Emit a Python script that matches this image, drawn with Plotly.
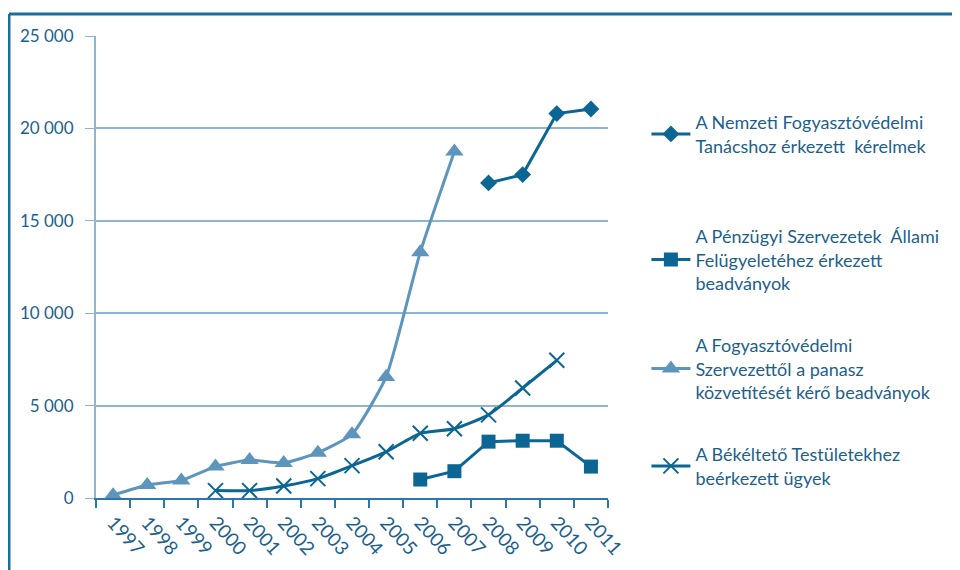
import plotly.graph_objects as go

years = [str(y) for y in range(1997, 2012)]

nft_years = ["2008", "2009", "2010", "2011"]
nft_values = [17050, 17500, 20800, 21050]

pszaf_years = ["2006", "2007", "2008", "2009", "2010", "2011"]
pszaf_values = [1000, 1450, 3050, 3100, 3100, 1700]

fvsz_years = ["1997", "1998", "1999", "2000", "2001", "2002", "2003", "2004", "2005", "2006", "2007"]
fvsz_values = [150, 700, 950, 1700, 2050, 1900, 2450, 3450, 6550, 13300, 18750]

bt_years = ["2000", "2001", "2002", "2003", "2004", "2005", "2006", "2007", "2008", "2009", "2010"]
bt_values = [400, 400, 650, 1050, 1750, 2500, 3500, 3750, 4500, 5950, 7450]

y_tickvals = [0, 5000, 10000, 15000, 20000, 25000]
y_ticktext = ["0", "5 000", "10 000", "15 000", "20 000", "25 000"]

names = [
    "A Nemzeti Fogyasztóvédelmi<br>Tanácshoz érkezett  kérelmek",
    "A Pénzügyi Szervezetek  Állami<br>Felügyeletéhez érkezett<br>beadványok",
    "A Fogyasztóvédelmi<br>Szervezettől a panasz<br>közvetítését kérő beadványok",
    "A Békéltető Testületekhez<br>beérkezett ügyek",
]

DARK = "#0b6693"
LIGHT = "#5e95bd"
TEXT = "#1d5f8c"
GRID = "#8db4d2"
FONT = "Lato"

# page body has an 8px margin: canvas is shifted by 8px
OFF = 8
W, H = 960 - OFF, 570 - OFF
L, T = 96 - OFF, 36 - OFF
PW, PH = 512, 462

fig = go.Figure()
fig.add_trace(go.Scatter(
    x=nft_years, y=nft_values, name=names[0], mode="lines+markers",
    line=dict(color=DARK, width=3),
    marker=dict(symbol="diamond", size=13, color=DARK),
    legend="legend",
))
fig.add_trace(go.Scatter(
    x=pszaf_years, y=pszaf_values, name=names[1], mode="lines+markers",
    line=dict(color=DARK, width=3),
    marker=dict(symbol="square", size=14, color=DARK),
    legend="legend2",
))
fig.add_trace(go.Scatter(
    x=fvsz_years, y=fvsz_values, name=names[2], mode="lines+markers",
    line=dict(color=LIGHT, width=3, shape="spline", smoothing=0.5),
    marker=dict(symbol="triangle-up", size=16, color=LIGHT),
    legend="legend3",
))
fig.add_trace(go.Scatter(
    x=bt_years, y=bt_values, name=names[3], mode="lines+markers",
    line=dict(color=DARK, width=3, shape="spline", smoothing=0.5),
    marker=dict(symbol="x-thin", size=15, color=DARK, line=dict(color=DARK, width=2)),
    legend="legend4",
))

def py_to_paper(py):
    # py is a reference-page pixel y
    return ((T + PH) - (py - OFF)) / PH

leg_common = dict(
    x=1.075, xanchor="left", yanchor="top",
    font=dict(family=FONT, size=18, color=TEXT),
    bgcolor="rgba(0,0,0,0)", itemwidth=39, tracegroupgap=0,
)
fig.update_layout(
    legend=dict(y=py_to_paper(104), **leg_common),
    legend2=dict(y=py_to_paper(218), **leg_common),
    legend3=dict(y=py_to_paper(327), **leg_common),
    legend4=dict(y=py_to_paper(436), **leg_common),
)

fig.update_layout(
    width=W, height=H,
    margin=dict(l=L, r=W - L - PW, t=T, b=H - T - PH),
    paper_bgcolor="white", plot_bgcolor="white",
    showlegend=True,
    font=dict(family=FONT, color=TEXT, size=17),
    xaxis=dict(
        type="category", categoryorder="array", categoryarray=years,
        tickson="boundaries", ticks="outside", ticklen=8, tickcolor="#2b78a8", tickwidth=1.5,
        showline=True, linecolor="#2b78a8", linewidth=2,
        showgrid=False, tickangle=48, ticklabelstandoff=4,
        tickfont=dict(family=FONT, size=19, color=TEXT),
        range=[-0.5, 14.5],
    ),
    yaxis=dict(
        range=[0, 25000], tickvals=y_tickvals, ticktext=y_ticktext,
        ticks="outside", ticklen=9, tickcolor=GRID,
        showline=True, linecolor=GRID, linewidth=2,
        showgrid=True, gridcolor=GRID, gridwidth=1.5,
        zeroline=False, ticklabelstandoff=8,
        tickfont=dict(family=FONT, size=17, color=TEXT),
    ),
)

# darker 15 000 gridline as in the reference
fig.add_shape(type="line", xref="paper", yref="y", x0=0, x1=1, y0=15000, y1=15000,
              line=dict(color="#1f6a98", width=1.5), layer="below")

# outer frame (top and left edges visible)
bx = ((9 - OFF) - L) / PW
by = ((T + PH) - (14 - OFF)) / PH
fig.add_shape(type="line", xref="paper", yref="paper", x0=bx, x1=2.0, y0=by, y1=by,
              line=dict(color="#1a6e9c", width=3))
fig.add_shape(type="line", xref="paper", yref="paper", x0=bx, x1=bx, y0=by, y1=-0.5,
              line=dict(color="#1a6e9c", width=3))

fig.write_html("out.html")
